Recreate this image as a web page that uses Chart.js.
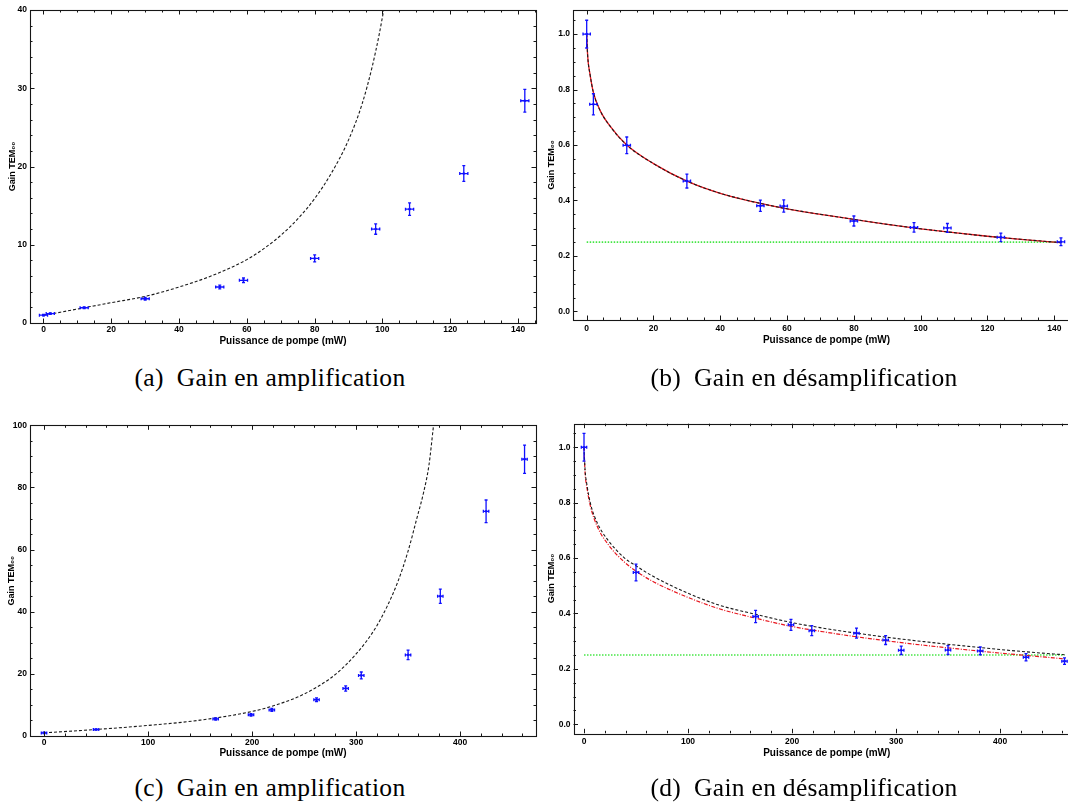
<!DOCTYPE html>
<html>
<head>
<meta charset="utf-8">
<script src="https://cdn.jsdelivr.net/npm/chart.js@4.4.1/dist/chart.umd.min.js"></script>
<style>
  html, body { margin: 0; padding: 0; background: #fff; overflow: hidden; }
  body { width: 1068px; height: 807px; position: relative; }
  canvas { position: absolute; }
  .cap {
    position: absolute; width: 540px; text-align: center; white-space: nowrap;
    font-family: 'Liberation Serif', 'DejaVu Serif', serif; font-size: 25.5px;
    letter-spacing: 0.3px; line-height: 1; color: #000;
  }
</style>
</head>
<body>
<canvas id="chartA" width="545" height="352" style="left:0;top:0"></canvas>
<canvas id="chartB" width="555" height="352" style="left:534px;top:0"></canvas>
<canvas id="chartC" width="545" height="360" style="left:0;top:410px"></canvas>
<canvas id="chartD" width="555" height="360" style="left:534px;top:410px"></canvas>
<div class="cap" style="left:0;top:365px">(a)&ensp;Gain en amplification</div>
<div class="cap" style="left:534px;top:365px">(b)&ensp;Gain en désamplification</div>
<div class="cap" style="left:0;top:775px">(c)&ensp;Gain en amplification</div>
<div class="cap" style="left:534px;top:775px">(d)&ensp;Gain en désamplification</div>
<script>
// values

// (a) amplification, low power
const powerA = [0, 2, 12, 30, 52, 59, 80, 98, 108, 124, 142];
const powerAErr = [1.2, 1.2, 1.2, 1.2, 1.2, 1.2, 1.2, 1.2, 1.2, 1.2, 1.2];
const gainA = [1.0, 1.2, 1.95, 3.1, 4.6, 5.45, 8.25, 12.0, 14.55, 19.1, 28.4];
const gainAErr = [0.1, 0.1, 0.12, 0.18, 0.25, 0.3, 0.45, 0.66, 0.8, 1.0, 1.45];
const fitAPower = [0, 5, 12, 20, 30, 40, 50, 60, 65, 70, 75, 80, 85, 90, 94, 97, 99, 100.5];
const fitAGain = [1.0, 1.38, 1.95, 2.6, 3.4, 4.6, 6.1, 8.1, 9.5, 11.2, 13.3, 15.9, 19.2, 23.4, 28.0, 32.8, 36.8, 40.3];
const ticksAX = [0, 20, 40, 60, 80, 100, 120, 140];
const ticksAY = [0, 10, 20, 30, 40];

// (b) deamplification, low power
const powerB = [0, 2, 12, 30, 52, 59, 80, 98, 108, 124, 142];
const powerBErr = [1.1, 1.1, 1.1, 1.1, 1.1, 1.1, 1.1, 1.1, 1.1, 1.1, 1.1];
const gainB = [1.0, 0.747, 0.599, 0.47, 0.381, 0.38, 0.326, 0.303, 0.301, 0.267, 0.251];
const gainBErr = [0.05, 0.038, 0.03, 0.025, 0.02, 0.022, 0.018, 0.017, 0.016, 0.015, 0.014];
const fitBPower = [0, 0.3, 1, 2, 4, 7, 12, 20, 30, 40, 50, 60, 70, 80, 90, 100, 110, 120, 130, 142];
const fitBGain = [1.0, 0.92, 0.855, 0.79, 0.725, 0.668, 0.6, 0.533, 0.47, 0.426, 0.395, 0.37, 0.35, 0.332, 0.314, 0.298, 0.284, 0.271, 0.26, 0.248];
const limitBPower = [0, 142];
const limitBGain = [0.25, 0.25];
const ticksBX = [0, 20, 40, 60, 80, 100, 120, 140];
const ticksBY = [0, 0.2, 0.4, 0.6, 0.8, 1.0];

// (c) amplification, high power
const powerC = [0, 50, 165, 199, 219, 262, 290, 305, 350, 381, 425, 462];
const powerCErr = [2.6, 2.6, 2.6, 2.6, 2.6, 2.6, 2.6, 2.6, 2.6, 2.6, 2.6, 2.6];
const gainC = [1.0, 2.1, 5.5, 6.8, 8.4, 11.7, 15.3, 19.5, 26.1, 45.0, 72.3, 89.1];
const gainCErr = [0.2, 0.2, 0.35, 0.4, 0.45, 0.6, 0.85, 1.1, 1.55, 2.3, 3.65, 4.55];
const fitCPower = [0, 50, 100, 150, 200, 225, 250, 275, 290, 300, 310, 320, 330, 340, 350, 358, 365, 370, 374.5];
const fitCGain = [1.0, 2.1, 3.4, 5.1, 7.9, 10.2, 13.5, 18.5, 22.8, 26.4, 30.5, 35.5, 41.8, 49.5, 59.5, 69.5, 78.5, 87, 100];
const ticksCX = [0, 100, 200, 300, 400];
const ticksCY = [0, 20, 40, 60, 80, 100];

// (d) deamplification, high power
const powerD = [0, 50, 165, 199, 219, 262, 290, 305, 350, 381, 425, 462];
const powerDErr = [2.6, 2.6, 2.6, 2.6, 2.6, 2.6, 2.6, 2.6, 2.6, 2.6, 2.6, 2.6];
const gainD = [1.0, 0.548, 0.389, 0.359, 0.338, 0.329, 0.304, 0.267, 0.268, 0.265, 0.242, 0.228];
const gainDErr = [0.05, 0.03, 0.022, 0.02, 0.018, 0.018, 0.016, 0.015, 0.016, 0.014, 0.013, 0.012];
const fitDPower = [0, 1, 3, 6, 13, 23, 39, 50, 65, 100, 130, 165, 200, 230, 260, 300, 330, 360, 400, 430, 462];
const fitDGain = [1.0, 0.92, 0.86, 0.8, 0.725, 0.665, 0.6, 0.572, 0.537, 0.473, 0.43, 0.397, 0.367, 0.347, 0.33, 0.31, 0.297, 0.285, 0.27, 0.26, 0.251];
const fit2DGain = [1.0, 0.91, 0.85, 0.79, 0.712, 0.65, 0.585, 0.553, 0.518, 0.458, 0.417, 0.383, 0.353, 0.334, 0.317, 0.297, 0.284, 0.272, 0.257, 0.247, 0.236];
const limitDPower = [0, 462];
const limitDGain = [0.25, 0.25];
const ticksDX = [0, 100, 200, 300, 400];
const ticksDY = [0, 0.2, 0.4, 0.6, 0.8, 1.0];

const BLUE = '#1010ff';
const TICK_FONT = { family: "'Liberation Sans', Arial, sans-serif", size: 8.5, weight: 'bold' };
const X_TITLE = 'Puissance de pompe (mW)';
const Y_TITLE = 'Gain TEM\u2080\u2080';

function pts(xs, ys) {
  return xs.map((v, i) => ({ x: v, y: ys[i] }));
}

// frame on all four sides with inward major / minor ticks (Mathematica style)
function tickMarks(scale, minorStep) {
  const majors = scale.ticks.map(t => t.value);
  const out = majors.map(v => ({ v, major: true }));
  const k0 = Math.ceil(scale.min / minorStep), k1 = Math.floor(scale.max / minorStep);
  for (let k = k0; k <= k1; k++) {
    const v = k * minorStep;
    if (!majors.some(m => Math.abs(m - v) < minorStep / 100)) out.push({ v, major: false });
  }
  return out;
}

const frameTicks = {
  id: 'frameTicks',
  afterDraw(chart, args, opts) {
    const { ctx, chartArea: a } = chart;
    const sx = chart.scales.x, sy = chart.scales.y;
    ctx.save();
    ctx.strokeStyle = '#161616';
    ctx.lineWidth = 1.1;
    ctx.strokeRect(Math.round(a.left) + 0.5, Math.round(a.top) + 0.5,
      Math.round(a.right - a.left), Math.round(a.bottom - a.top));
    ctx.lineWidth = 1;
    ctx.beginPath();
    for (const t of tickMarks(sx, opts.xMinor)) {
      const px = Math.round(sx.getPixelForValue(t.v)) + 0.5;
      const len = t.major ? 4.5 : 2.5;
      ctx.moveTo(px, a.bottom); ctx.lineTo(px, a.bottom - len);
      ctx.moveTo(px, a.top); ctx.lineTo(px, a.top + len);
    }
    for (const t of tickMarks(sy, opts.yMinor)) {
      const py = Math.round(sy.getPixelForValue(t.v)) + 0.5;
      const len = t.major ? 4.5 : 2.5;
      ctx.moveTo(a.left, py); ctx.lineTo(a.left + len, py);
      ctx.moveTo(a.right, py); ctx.lineTo(a.right - len, py);
    }
    ctx.stroke();
    ctx.restore();
  }
};

// crosses: horizontal and vertical error bars with small caps
const errorBars = {
  id: 'errorBars',
  afterDatasetsDraw(chart) {
    const { ctx } = chart;
    const sx = chart.scales.x, sy = chart.scales.y;
    chart.data.datasets.forEach(ds => {
      if (!ds.errY) return;
      ctx.save();
      ctx.strokeStyle = BLUE;
      ctx.lineWidth = 1.3;
      ctx.beginPath();
      ds.data.forEach((p, j) => {
        const px = sx.getPixelForValue(p.x), py = sy.getPixelForValue(p.y);
        const x0 = sx.getPixelForValue(p.x - ds.errX[j]), x1 = sx.getPixelForValue(p.x + ds.errX[j]);
        const y0 = sy.getPixelForValue(p.y - ds.errY[j]), y1 = sy.getPixelForValue(p.y + ds.errY[j]);
        ctx.moveTo(x0, py); ctx.lineTo(x1, py);
        ctx.moveTo(px, y0); ctx.lineTo(px, y1);
        ctx.moveTo(x0, py - 1.5); ctx.lineTo(x0, py + 1.5);
        ctx.moveTo(x1, py - 1.5); ctx.lineTo(x1, py + 1.5);
        ctx.moveTo(px - 1.5, y0); ctx.lineTo(px + 1.5, y0);
        ctx.moveTo(px - 1.5, y1); ctx.lineTo(px + 1.5, y1);
      });
      ctx.stroke();
      ctx.restore();
    });
  }
};

function makePanel(id, p) {
  const canvas = document.getElementById(id);
  const W = canvas.width, H = canvas.height;
  const f = p.frame;
  const datasets = [{
    data: pts(p.power, p.gain),
    errX: p.powerErr,
    errY: p.gainErr,
    showLine: false,
    pointRadius: 1.3,
    pointBackgroundColor: BLUE,
    pointBorderWidth: 0
  }];
  p.curves.forEach(c => datasets.push({
    data: pts(c.x, c.y),
    showLine: true,
    pointRadius: 0,
    borderColor: c.color,
    borderWidth: c.width,
    borderDash: c.dash,
    cubicInterpolationMode: 'monotone',
    fill: false
  }));

  return new Chart(canvas, {
    type: 'scatter',
    data: { datasets },
    plugins: [frameTicks, errorBars],
    options: {
      responsive: false,
      animation: false,
      events: [],
      layout: { padding: { left: 0, top: f.t, right: W - f.r, bottom: 0 } },
      plugins: {
        legend: { display: false },
        tooltip: { enabled: false },
        frameTicks: { xMinor: p.xMinor, yMinor: p.yMinor }
      },
      scales: {
        x: {
          type: 'linear',
          min: p.xRange[0], max: p.xRange[1],
          afterBuildTicks: s => { s.ticks = p.xTicks.map(v => ({ value: v })); },
          afterFit: s => { s.height = H - f.b; },
          grid: { display: false, drawTicks: false },
          border: { display: false },
          ticks: {
            color: '#000', font: TICK_FONT, padding: p.xPad,
            autoSkip: false, maxRotation: 0,
            callback: v => p.xFmt(v)
          },
          title: {
            display: true, text: X_TITLE, color: '#000',
            font: { family: "'Liberation Sans', Arial, sans-serif", size: 10, weight: 'bold' },
            padding: { top: 0, bottom: H - p.xTitleY - 6 }
          }
        },
        y: {
          type: 'linear',
          min: p.yRange[0], max: p.yRange[1],
          afterBuildTicks: s => { s.ticks = p.yTicks.map(v => ({ value: v })); },
          afterFit: s => { s.width = f.l; },
          grid: { display: false, drawTicks: false },
          border: { display: false },
          ticks: {
            color: '#000', font: TICK_FONT, padding: 3,
            autoSkip: false,
            callback: v => p.yFmt(v)
          },
          title: {
            display: true, text: Y_TITLE, color: '#000',
            font: { family: "'Liberation Sans', 'DejaVu Sans', sans-serif", size: 9, weight: 'bold' },
            padding: { top: p.yTitleX - 5.4, bottom: 0 }
          }
        }
      }
    }
  });
}

const intFmt = v => String(Math.round(v));
const decFmt = v => v.toFixed(1);
const fitDash = [3, 2];

makePanel('chartA', {
  power: powerA, powerErr: powerAErr, gain: gainA, gainErr: gainAErr,
  curves: [{ x: fitAPower, y: fitAGain, color: '#1a1a1a', width: 1.1, dash: fitDash }],
  frame: { l: 30, t: 10, r: 536, b: 323 },
  xRange: [-3.98, 145.3], yRange: [0, 40],
  xTicks: ticksAX, yTicks: ticksAY, xMinor: 5, yMinor: 2,
  xFmt: intFmt, yFmt: intFmt, xPad: 2, xTitleY: 341, yTitleX: 12.5
});

makePanel('chartB', {
  power: powerB, powerErr: powerBErr, gain: gainB, gainErr: gainBErr,
  curves: [
    { x: fitBPower, y: fitBGain, color: '#1a1a1a', width: 1.1, dash: fitDash },
    { x: fitBPower, y: fitBGain, color: '#e8141c', width: 1.3, dash: [] },
    { x: limitBPower, y: limitBGain, color: 'rgb(70,230,70)', width: 1.6, dash: [1.5, 1.5] }
  ],
  frame: { l: 39, t: 10, r: 546, b: 320 },
  xRange: [-4.1, 147.7], yRange: [-0.031, 1.087],
  xTicks: ticksBX, yTicks: ticksBY, xMinor: 5, yMinor: 0.05,
  xFmt: intFmt, yFmt: decFmt, xPad: 3.5, xTitleY: 340.7, yTitleX: 17.7
});

makePanel('chartC', {
  power: powerC, powerErr: powerCErr, gain: gainC, gainErr: gainCErr,
  curves: [{ x: fitCPower, y: fitCGain, color: '#1a1a1a', width: 1.1, dash: fitDash }],
  frame: { l: 30, t: 15.3, r: 536, b: 326 },
  xRange: [-13.5, 473], yRange: [0, 100],
  xTicks: ticksCX, yTicks: ticksCY, xMinor: 20, yMinor: 5,
  xFmt: intFmt, yFmt: intFmt, xPad: 1.5, xTitleY: 343.3, yTitleX: 12
});

makePanel('chartD', {
  power: powerD, powerErr: powerDErr, gain: gainD, gainErr: gainDErr,
  curves: [
    { x: fitDPower, y: fitDGain, color: '#1a1a1a', width: 1.1, dash: fitDash },
    { x: fitDPower, y: fit2DGain, color: '#e8141c', width: 1.2, dash: [4, 1.5, 1, 1.5] },
    { x: limitDPower, y: limitDGain, color: 'rgb(70,230,70)', width: 1.6, dash: [1.5, 1.5] }
  ],
  frame: { l: 39.5, t: 13.7, r: 546, b: 323.3 },
  xRange: [-10.1, 476.9], yRange: [-0.0325, 1.085],
  xTicks: ticksDX, yTicks: ticksDY, xMinor: 20, yMinor: 0.05,
  xFmt: intFmt, yFmt: decFmt, xPad: 3.5, xTitleY: 343, yTitleX: 17.7
});
</script>
</body>
</html>
